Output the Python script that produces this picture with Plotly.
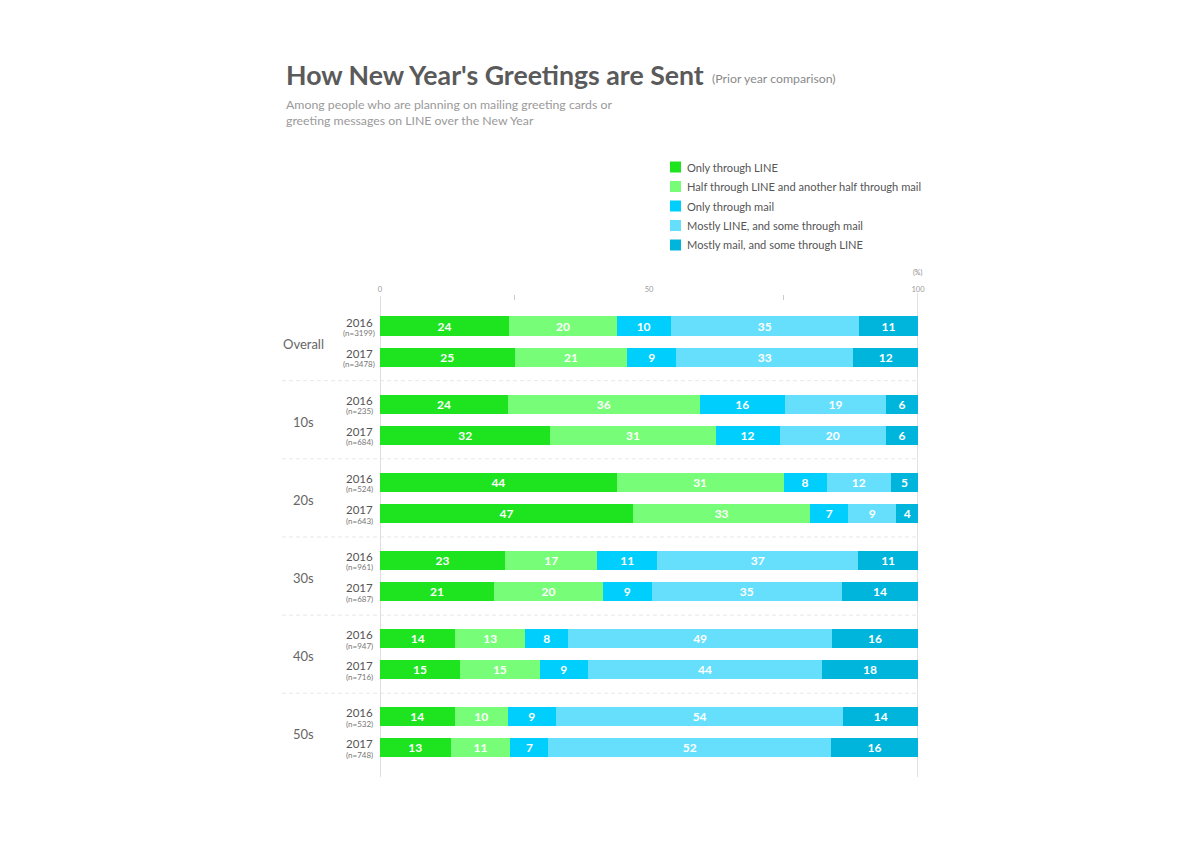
import plotly.graph_objects as go

# ---------------- data ----------------
groups = ["Overall", "10s", "20s", "30s", "40s", "50s"]
years = ["2016", "2017"]
sample_sizes = [3199, 3478, 235, 684, 524, 643, 961, 687, 947, 716, 532, 748]

series_names = [
    "Only through LINE",
    "Half through LINE and another half through mail",
    "Only through mail",
    "Mostly LINE, and some through mail",
    "Mostly mail, and some through LINE",
]
only_line = [24, 25, 24, 32, 44, 47, 23, 21, 14, 15, 14, 13]
half_half = [20, 21, 36, 31, 31, 33, 17, 20, 13, 15, 10, 11]
only_mail = [10, 9, 16, 12, 8, 7, 11, 9, 8, 9, 9, 7]
mostly_line = [35, 33, 19, 20, 12, 9, 37, 35, 49, 44, 54, 52]
mostly_mail = [11, 12, 6, 6, 5, 4, 11, 14, 16, 18, 14, 16]

x_tick_vals = [0, 50, 100]
x_tick_text = ["0", "50", "100"]

# ---------------- style ----------------
colors = ["#1ee41f", "#78fd78", "#00cffd", "#66dffd", "#00b5dc"]
FONT = "Lato"
W, H = 1200, 848
OFF = 8                            # page body margin
L, R, T, B = 380, 918, 296, 777    # target plot area in screen pixels

def px(xp):
    return (xp - L) / (R - L)

def py(yp):
    return (B - yp) / (B - T)

GROUP_GAP = 2.5
rows_y = []
for g in range(len(groups)):
    for j in range(len(years)):
        rows_y.append(g * GROUP_GAP + j)

fig = go.Figure()
series = [only_line, half_half, only_mail, mostly_line, mostly_mail]
for name, vals, col in zip(series_names, series, colors):
    fig.add_trace(go.Bar(
        name=name, orientation="h", x=vals, y=rows_y,
        marker=dict(color=col, line=dict(width=0)),
        width=0.61,
        text=[str(v) for v in vals], textposition="inside",
        insidetextanchor="middle", textangle=0,
        textfont=dict(color="white", size=12, family=FONT, weight=700),
        constraintext="none", showlegend=False,
    ))

annotations = []
shapes = []

# Title & subtitle
annotations.append(dict(text="How New Year's Greetings are Sent", xref="paper", yref="paper",
                        x=px(284), y=py(75), xanchor="left", yanchor="middle", showarrow=False,
                        font=dict(family=FONT, size=26.7, color="#5a5a5a", weight=700)))
annotations.append(dict(text="(Prior year comparison)", xref="paper", yref="paper",
                        x=px(710), y=py(78), xanchor="left", yanchor="middle", showarrow=False,
                        font=dict(family=FONT, size=12.3, color="#8a8a8a")))
annotations.append(dict(text="Among people who are planning on mailing greeting cards or", xref="paper", yref="paper",
                        x=px(284), y=py(104), xanchor="left", yanchor="middle", showarrow=False,
                        font=dict(family=FONT, size=12.3, color="#9a9a9a")))
annotations.append(dict(text="greeting messages on LINE over the New Year", xref="paper", yref="paper",
                        x=px(284), y=py(120), xanchor="left", yanchor="middle", showarrow=False,
                        font=dict(family=FONT, size=12.3, color="#9a9a9a")))

# Manual legend
legend_y = [167, 186.5, 206, 225.5, 245]
for name, col, ly in zip(series_names, colors, legend_y):
    shapes.append(dict(type="rect", xref="paper", yref="paper",
                       x0=px(670), x1=px(681), y0=py(ly + 5.5), y1=py(ly - 5.5),
                       fillcolor=col, line=dict(width=0)))
    annotations.append(dict(text=name, xref="paper", yref="paper",
                            x=px(685), y=py(ly), xanchor="left", yanchor="middle", showarrow=False,
                            font=dict(family=FONT, size=11.1, color="#555555")))

# (%) label
annotations.append(dict(text="(%)", xref="paper", yref="paper", x=px(917), y=py(272),
                        xanchor="center", yanchor="middle", showarrow=False,
                        font=dict(family=FONT, size=7, color="#888888")))

# Row labels
for i, yv in enumerate(rows_y):
    annotations.append(dict(text=years[i % 2], xref="paper", yref="y", x=px(359), y=yv, yshift=4,
                            xanchor="center", yanchor="middle", showarrow=False,
                            font=dict(family=FONT, size=11.5, color="#555555")))
    annotations.append(dict(text=f"(n={sample_sizes[i]})", xref="paper", yref="y", x=px(359), y=yv, yshift=-7,
                            xanchor="center", yanchor="middle", showarrow=False,
                            font=dict(family=FONT, size=8, color="#777777")))
for g, name in enumerate(groups):
    annotations.append(dict(text=name, xref="paper", yref="y", x=px(303), y=g * GROUP_GAP + 0.5, yshift=-2,
                            xanchor="center", yanchor="middle", showarrow=False,
                            font=dict(family=FONT, size=13, color="#666666")))

# Dashed separators
for g in range(len(groups) - 1):
    ys = g * GROUP_GAP + 1 + (GROUP_GAP - 1) / 2
    shapes.append(dict(type="line", xref="paper", yref="y", x0=px(282), x1=1, y0=ys, y1=ys,
                       line=dict(color="#e8e8e8", width=1, dash="4px,3px"), layer="below"))

# Axis lines
shapes.append(dict(type="line", xref="x", yref="paper", x0=0, x1=0, y0=0, y1=1,
                   line=dict(color="#dedede", width=2), layer="below"))
shapes.append(dict(type="line", xref="x", yref="paper", x0=100, x1=100, y0=0, y1=py(293),
                   line=dict(color="#c4c4c4", width=1), layer="below"))
for tv in [25, 75]:
    shapes.append(dict(type="line", xref="x", yref="paper", x0=tv, x1=tv, y0=py(300), y1=py(295),
                       line=dict(color="#cccccc", width=1)))

fig.update_layout(
    width=W, height=H,
    margin=dict(l=L - OFF, r=W - (R - OFF), t=T - OFF, b=H - (B - OFF), autoexpand=False),
    paper_bgcolor="white", plot_bgcolor="white",
    barmode="stack", barnorm="percent",
    showlegend=False,
    xaxis=dict(range=[0, 100], side="top", tickvals=x_tick_vals, ticktext=x_tick_text,
               ticks="", showgrid=False, zeroline=False, showline=False, fixedrange=True,
               ticklabelstandoff=2,
               tickfont=dict(family=FONT, size=7.5, color="#999999"), automargin=False),
    yaxis=dict(range=[5 * GROUP_GAP + 1 + 0.93, -0.96], showticklabels=False, showgrid=False,
               zeroline=False, showline=False, fixedrange=True, automargin=False),
    annotations=annotations, shapes=shapes,
    font=dict(family=FONT),
)

fig.write_html("out.html")
